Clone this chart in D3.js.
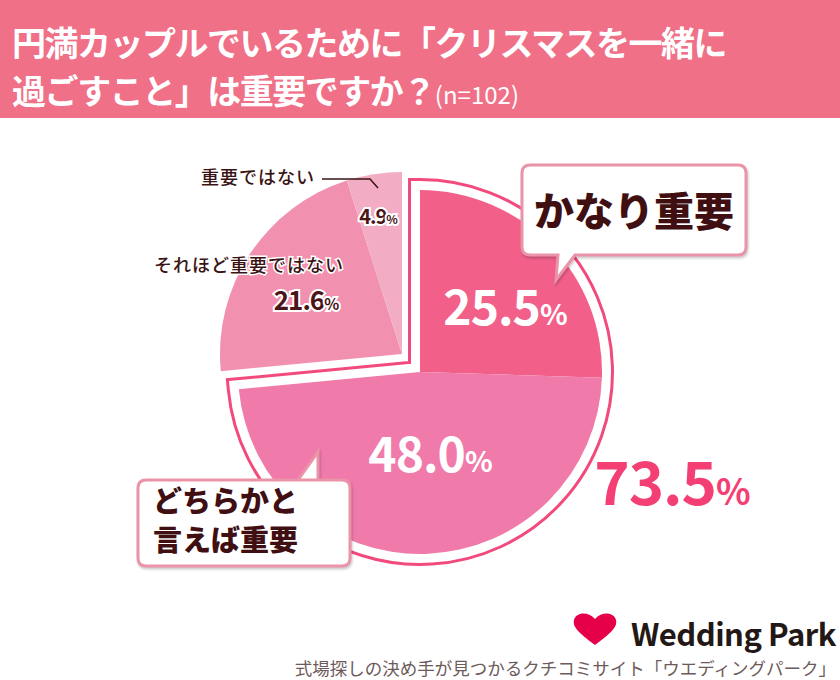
<!DOCTYPE html>
<html><head><meta charset="utf-8">
<script src="https://cdn.jsdelivr.net/npm/d3@7"></script>
<style>body{margin:0;background:#fff}text{font-family:"Noto Sans CJK JP","Noto Sans",sans-serif}</style>
</head><body><svg id="c" width="840" height="680"></svg>
<script>
const categories = ["かなり重要","どちらかと言えば重要","それほど重要ではない","重要ではない"];
const values = [25.5, 48.0, 21.6, 4.9];
const colors = ["#f2608a","#f07aaa","#f290b0","#f2adc5"];
const svg = d3.select("#c");
svg.append("rect").attr("width",840).attr("height",118).attr("fill","#f07088");
const t1 = svg.append("text").attr("x",12).attr("y",56).attr("fill","#fff").attr("font-size",34).attr("font-weight",700).attr("letter-spacing",-1.5);
t1.text("円満カップルでいるために「クリスマスを一緒に");
const t2 = svg.append("text").attr("x",12).attr("y",104).attr("fill","#fff").attr("font-size",34).attr("font-weight",700).attr("letter-spacing",-1.5);
t2.append("tspan").text("過ごすこと」は重要ですか？");
t2.append("tspan").attr("font-size",24).attr("font-weight",400).attr("letter-spacing",0).text("(n=102)");

const r = 182;
const pie = d3.pie().sort(null).value(d=>d)(values);
const arc = d3.arc().innerRadius(0).outerRadius(r);
const gA = svg.append("g").attr("transform","translate(420,372)");
const gB = svg.append("g").attr("transform","translate(402,354)");
const grp = d3.arc().innerRadius(0).outerRadius(r)({startAngle:pie[0].startAngle,endAngle:pie[1].endAngle});
gA.append("path").attr("d",grp).attr("fill","none").attr("stroke","#f24a7c").attr("stroke-width",24).attr("stroke-linejoin","miter");
gA.append("path").attr("d",grp).attr("fill","#fff").attr("stroke","#fff").attr("stroke-width",18).attr("stroke-linejoin","miter");
pie.forEach((p,i)=>{ (i<2?gA:gB).append("path").attr("d",arc(p)).attr("fill",colors[i]); });

function pct(x,y,v,size,fill,halo){
  const t = svg.append("text").attr("x",x).attr("y",y).attr("text-anchor","middle").attr("font-size",size).attr("font-weight",700).attr("fill",fill).attr("font-family","Roboto,'Noto Sans',sans-serif").attr("letter-spacing",-1);
  if(halo){t.attr("stroke","#fff").attr("stroke-width",4).attr("paint-order","stroke");}
  t.append("tspan").text(v.toFixed(1));
  t.append("tspan").attr("font-size",size*0.6).text("%");
}
pct(505,325,values[0],48,"#fff");
pct(430,472,values[1],48,"#fff");
pct(306,310,values[2],26,"#4a1418",true);
pct(378,224,values[3],20,"#4a1418",true);
pct(672,505,values[0]+values[1],60,"#f43f74");

function lab(x,y,s){svg.append("text").attr("x",x).attr("y",y).attr("text-anchor","end").attr("font-size",18).attr("font-weight",500).attr("fill","#3a1414").attr("stroke","#fff").attr("stroke-width",3).attr("paint-order","stroke").attr("letter-spacing",1).text(s);}
lab(315,184,categories[3]);
lab(344,272,categories[2]);
svg.append("path").attr("d","M322,179H370L378,188").attr("fill","none").attr("stroke","#3a1414").attr("stroke-width",1.5);

function bubble(x,y,w,h,tail){
  svg.append("path").attr("d",`M${x+8},${y}H${x+w-8}Q${x+w},${y} ${x+w},${y+8}V${y+h-8}Q${x+w},${y+h} ${x+w-8},${y+h}`+
   (tail.down?`H${tail.a}L${tail.tx},${tail.ty}L${tail.b},${y+h}H${x+8}Q${x},${y+h} ${x},${y+h-8}V${y+8}Q${x},${y} ${x+8},${y}Z`
    :`H${x+8}Q${x},${y+h} ${x},${y+h-8}V${y+8}Q${x},${y} ${x+8},${y}H${tail.a}L${tail.tx},${tail.ty}L${tail.b},${y}Z`))
   .attr("fill","#fff").attr("stroke","#eb93a8").attr("stroke-width",3)
   .style("filter","drop-shadow(1px 2px 1px rgba(0,0,0,0.2))");
}
bubble(522,165,224,90,{down:true,a:575,tx:556,ty:280,b:558});
svg.append("text").attr("x",634,).attr("y",226).attr("text-anchor","middle").attr("font-size",40).attr("font-weight",900).attr("fill","#3f0f12").text(categories[0]);
bubble(138,480,212,86,{down:false,a:298,tx:318,ty:452,b:318});
svg.append("text").attr("x",153).attr("y",512).attr("font-size",29).attr("font-weight",900).attr("fill","#3f0f12").text("どちらかと");
svg.append("text").attr("x",153).attr("y",551).attr("font-size",29).attr("font-weight",900).attr("fill","#3f0f12").text("言えば重要");

svg.append("path").attr("d","M595,645C582,635 572,628 574,620C576,612 588,611 595,619C602,611 614,612 616,620C618,628 608,635 595,645Z").attr("fill","#e60049");
svg.append("text").attr("x",836).attr("y",646).attr("text-anchor","end").attr("font-size",31).attr("font-weight",700).attr("fill","#231815").attr("font-family","'DejaVu Sans',sans-serif").attr("letter-spacing",-0.5).text("Wedding Park");
svg.append("text").attr("x",836).attr("y",675).attr("text-anchor","end").attr("font-size",17.5).attr("fill","#6d5a5a").text("式場探しの決め手が見つかるクチコミサイト「ウエディングパーク」");
</script></body></html>
